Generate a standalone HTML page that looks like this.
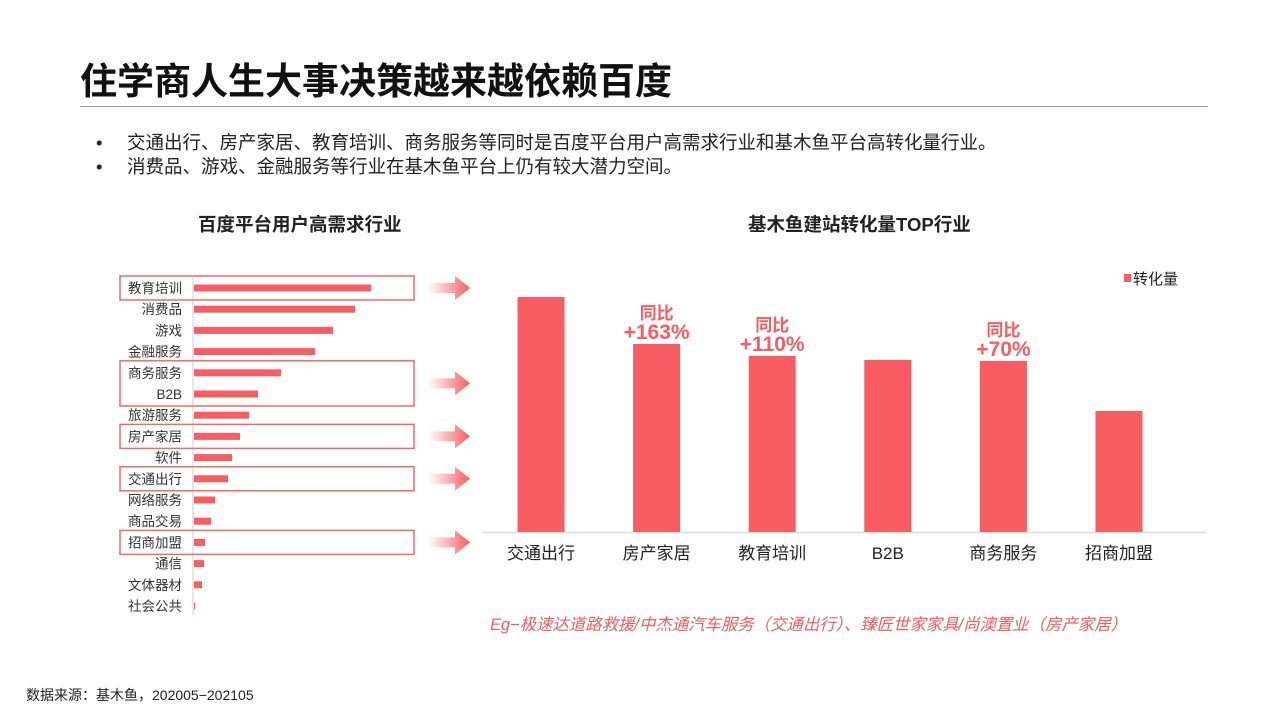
<!DOCTYPE html>
<html><head><meta charset="utf-8"><style>
body{margin:0;width:1279px;height:719px;background:#fff;font-family:"Liberation Sans","Noto Sans CJK SC",sans-serif;position:relative;overflow:hidden;color:#222}
.abs{position:absolute;white-space:nowrap}
</style></head><body>
<div class="abs" style="left:80px;top:51px;font-size:37px;font-weight:bold;color:#111">住学商人生大事决策越来越依赖百度</div>
<div class="abs" style="left:80px;top:106px;width:1128px;height:1px;background:#999"></div>
<div class="abs" style="left:96px;top:129px;font-size:18.5px"><span style="display:inline-block;width:31px">•</span>交通出行、房产家居、教育培训、商务服务等同时是百度平台用户高需求行业和基木鱼平台高转化量行业。</div>
<div class="abs" style="left:96px;top:153px;font-size:18.5px"><span style="display:inline-block;width:31px">•</span>消费品、游戏、金融服务等行业在基木鱼平台上仍有较大潜力空间。</div>
<div class="abs" style="left:198px;top:211px;font-size:18.5px;font-weight:bold">百度平台用户高需求行业</div>
<div class="abs" style="left:748px;top:211px;font-size:18.5px;font-weight:bold">基木鱼建站转化量TOP行业</div>
<div class="abs" style="left:490px;top:611px;font-size:16.4px;font-style:italic;color:#f55a60">Eg−极速达道路救援/中杰通汽车服务（交通出行）、臻匠世家家具/尚澳置业（房产家居）</div>
<div class="abs" style="left:26px;top:685px;font-size:14px">数据来源：基木鱼，202005−202105</div>
<svg class="abs" style="left:0;top:0" width="1279" height="719" id="svg"></svg>
<script>
const leftCats=["教育培训","消费品","游戏","金融服务","商务服务","B2B","旅游服务","房产家居","软件","交通出行","网络服务","商品交易","招商加盟","通信","文体器材","社会公共"];
const leftVals=[177,161,139,121,87,64,55,46,38,34,21,17,11,10,8,1];
const rightCats=["交通出行","房产家居","教育培训","B2B","商务服务","招商加盟"];
const rightVals=[235,188,176,172,171,121];
const rightNotes=["","+163%","+110%","","+70%",""];
const NS="http://www.w3.org/2000/svg";
const svg=document.getElementById('svg');
function mk(t,a,txt){const e=document.createElementNS(NS,t);for(const k in a)e.setAttribute(k,a[k]);if(txt!==undefined)e.textContent=txt;svg.appendChild(e);return e;}
const defs=document.createElementNS(NS,'defs');defs.innerHTML='<linearGradient id="ag"><stop offset="0" stop-color="#f95c62" stop-opacity="0"/><stop offset="1" stop-color="#f95c62"/></linearGradient>';svg.appendChild(defs);
const lx=v=>194+v*1.0, ly=i=>288+i*21.2;
let ax=mk('line',{x1:193,y1:278,x2:193,y2:615,stroke:'#ccc'});

leftCats.forEach((c,i)=>{
 const r=mk('rect',{x:194,y:ly(i)-3.5,width:lx(leftVals[i])-194,height:7,fill:'#f95c62'});
 
 const t=mk('text',{x:182,y:ly(i)+5,'text-anchor':'end','font-size':13.5,fill:'#333'},c);
 
});
[[0,0],[4,5],[7,7],[9,9],[12,12]].forEach(([a,b])=>{
 const y1=ly(a)-12,y2=ly(b)+12;
 const bx=mk('rect',{x:120,y:y1,width:294,height:y2-y1,fill:'none',stroke:'#f0696e','stroke-width':1.5});
 
 const cy=(y1+y2)/2;
 const ar=mk('polygon',{points:`428,${cy-5} 455,${cy-5} 455,${cy-12} 470,${cy} 455,${cy+12} 455,${cy+5} 428,${cy+5}`,fill:'url(#ag)'});
 
});
const base=532, rs=v=>v*1.0, rx=i=>541+i*115.6;
const bl=mk('line',{x1:483,y1:base+0.5,x2:1206,y2:base+0.5,stroke:'#ddd','stroke-width':1.5});

rightCats.forEach((c,i)=>{
 const h=rs(rightVals[i]);
 const r=mk('rect',{x:rx(i)-23.5,y:base-h,width:47,height:h,fill:'#f95c62'});
 
 const t=mk('text',{x:rx(i),y:559,'text-anchor':'middle','font-size':17,fill:'#222'},c);
 
 if(rightNotes[i]){
  const a=mk('text',{x:rx(i),y:base-h-25,'text-anchor':'middle','font-size':17,'font-weight':'bold',fill:'#f95c62'},'同比');
  
  const b=mk('text',{x:rx(i),y:base-h-5,'text-anchor':'middle','font-size':21,'font-weight':'bold',fill:'#f95c62'},rightNotes[i]);
  
 }
});
const lg=mk('rect',{x:1124,y:274,width:7,height:8,fill:'#f95c62'});

const lt=mk('text',{x:1133,y:284,'font-size':15,fill:'#222'},'转化量');

</script>
</body></html>
